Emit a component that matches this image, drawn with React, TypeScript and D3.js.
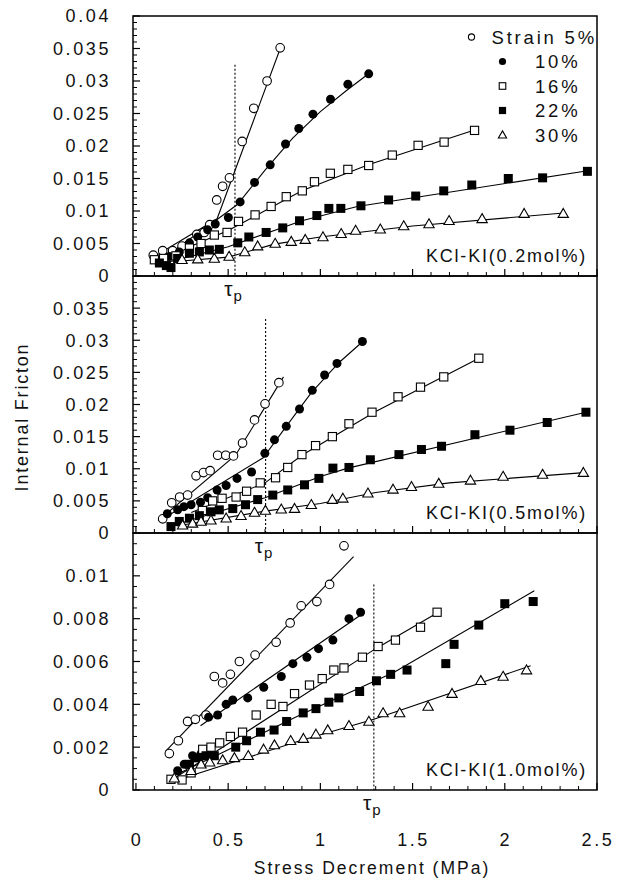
import * as d3 from 'd3';

// values
const xMajor = [0, 0.5, 1, 1.5, 2, 2.5];
const strainLabels = ['Strain 5%', '10%', '16%', '22%', '30%'];
const panelLabels = ['KCl-KI(0.2mol%)', 'KCl-KI(0.5mol%)', 'KCl-KI(1.0mol%)'];
const tauP = [0.537, 0.703, 1.29];
const tauTop = [0.0325, 0.0333, 0.0096];
const yMax = [0.04, 0.04, 0.012];
const yMajorStep = [0.005, 0.005, 0.002];
const yMinorStep = [0.001, 0.001, 0.0005];
const yLabelMax = [0.04, 0.035, 0.01];

// panel 1: KCl-KI 0.2 mol%
const p1s5 = [[0.094,0.0032],[0.145,0.0039],[0.199,0.0039],[0.25,0.0046],[0.33,0.0064],[0.37,0.0067],[0.40,0.0079],[0.438,0.0117],[0.47,0.0138],[0.507,0.0151],[0.576,0.0207],[0.639,0.0258],[0.711,0.0300],[0.782,0.0351]];
const p1s10 = [[0.127,0.0022],[0.181,0.0030],[0.235,0.0037],[0.29,0.0051],[0.335,0.0060],[0.389,0.0071],[0.43,0.0080],[0.501,0.0090],[0.565,0.0114],[0.643,0.0144],[0.728,0.0171],[0.811,0.0203],[0.883,0.0227],[0.960,0.0249],[1.055,0.0272],[1.149,0.0295],[1.262,0.0311]];
const p1s16 = [[0.10,0.0025],[0.15,0.0027],[0.217,0.0031],[0.29,0.0043],[0.353,0.0050],[0.425,0.0063],[0.494,0.0067],[0.556,0.0084],[0.646,0.0094],[0.733,0.0107],[0.815,0.0122],[0.902,0.0131],[0.968,0.0145],[1.054,0.0158],[1.149,0.0164],[1.262,0.0170],[1.390,0.0186],[1.530,0.0201],[1.671,0.0206],[1.836,0.0224]];
const p1s22 = [[0.127,0.0020],[0.165,0.0016],[0.19,0.0013],[0.226,0.0027],[0.29,0.0035],[0.344,0.0037],[0.398,0.0040],[0.452,0.0041],[0.552,0.0051],[0.612,0.0060],[0.706,0.0067],[0.796,0.0074],[0.887,0.0085],[0.981,0.0093],[1.046,0.0104],[1.111,0.0104],[1.220,0.0108],[1.370,0.0117],[1.517,0.0123],[1.669,0.0131],[1.821,0.0140],[2.019,0.0150],[2.205,0.0151],[2.448,0.0161]];
const p1s30 = [[0.25,0.0025],[0.335,0.0026],[0.425,0.0027],[0.505,0.0030],[0.59,0.0037],[0.66,0.0046],[0.755,0.0050],[0.842,0.0053],[0.918,0.0056],[1.014,0.0060],[1.113,0.0065],[1.191,0.0070],[1.325,0.0072],[1.452,0.0077],[1.589,0.0080],[1.698,0.0085],[1.877,0.0088],[2.105,0.0096],[2.317,0.0096]];
const p1f5 = [[0.10,0.0030],[0.44,0.0088],[0.785,0.0352]];
const p1f10 = [[0.12,0.0022],[0.44,0.0087],[0.55,0.0110],[0.70,0.0163],[0.85,0.0212],[1.0,0.0253],[1.14,0.0285],[1.265,0.0312]];
const p1f16 = [[0.10,0.0022],[0.50,0.0070],[0.90,0.0131],[1.26,0.0171],[1.84,0.0225]];
const p1f22 = [[0.13,0.0018],[0.50,0.0045],[0.90,0.0085],[1.20,0.0107],[2.45,0.0162]];
const p1f30 = [[0.20,0.0022],[0.50,0.0029],[0.75,0.0049],[1.0,0.0060],[1.5,0.0077],[2.32,0.0097]];

// panel 2: KCl-KI 0.5 mol%
const p2s5 = [[0.145,0.0022],[0.194,0.0047],[0.237,0.0056],[0.28,0.0059],[0.326,0.0089],[0.366,0.0094],[0.402,0.0097],[0.443,0.0121],[0.487,0.0121],[0.529,0.0120],[0.578,0.0140],[0.643,0.0176],[0.70,0.0201],[0.775,0.0234]];
const p2s10 = [[0.17,0.0030],[0.226,0.0036],[0.26,0.0041],[0.299,0.0044],[0.35,0.0048],[0.389,0.0055],[0.44,0.0067],[0.489,0.0074],[0.548,0.0085],[0.627,0.0095],[0.699,0.0124],[0.751,0.0145],[0.815,0.0166],[0.887,0.0193],[0.956,0.0222],[1.023,0.0246],[1.09,0.0264],[1.228,0.0298]];
const p2s16 = [[0.36,0.0035],[0.416,0.0050],[0.467,0.0054],[0.543,0.0056],[0.60,0.0065],[0.674,0.0078],[0.757,0.0086],[0.823,0.0102],[0.90,0.0122],[0.974,0.0136],[1.065,0.0150],[1.155,0.0170],[1.28,0.0188],[1.421,0.0212],[1.543,0.0227],[1.669,0.0243],[1.859,0.0272]];
const p2s22 = [[0.19,0.0010],[0.235,0.0018],[0.29,0.0023],[0.344,0.0027],[0.407,0.0033],[0.452,0.0036],[0.525,0.0038],[0.594,0.0044],[0.66,0.0052],[0.742,0.0059],[0.823,0.0067],[0.914,0.0075],[0.992,0.0085],[1.068,0.0101],[1.155,0.0102],[1.271,0.0114],[1.426,0.0122],[1.548,0.0130],[1.657,0.0135],[1.838,0.0153],[2.028,0.0160],[2.23,0.0172],[2.44,0.0188]];
const p2s30 = [[0.253,0.0012],[0.307,0.0015],[0.353,0.0018],[0.407,0.0020],[0.489,0.0023],[0.57,0.0027],[0.643,0.0032],[0.702,0.0035],[0.788,0.0037],[0.86,0.0038],[0.951,0.0044],[1.065,0.0052],[1.122,0.0054],[1.258,0.0062],[1.394,0.0068],[1.494,0.0072],[1.642,0.0077],[1.814,0.0082],[1.991,0.0088],[2.205,0.0091],[2.426,0.0094]];
const p2f5 = [[0.12,0.0019],[0.54,0.0121],[0.80,0.0243]];
const p2f10 = [[0.14,0.0021],[0.69,0.0117],[0.80,0.0160],[0.95,0.0218],[1.10,0.0265],[1.23,0.0298]];
const p2f16 = [[0.30,0.0032],[0.70,0.0078],[0.90,0.0121],[1.30,0.0189],[1.86,0.0272]];
const p2f22 = [[0.19,0.0011],[0.70,0.0055],[1.0,0.0088],[1.15,0.0101],[2.44,0.0188]];
const p2f30 = [[0.22,0.0011],[0.70,0.0034],[1.0,0.0046],[1.30,0.0063],[1.70,0.0078],[2.43,0.0094]];

// panel 3: KCl-KI 1.0 mol%
const p3s5 = [[0.181,0.0017],[0.23,0.0023],[0.28,0.0032],[0.322,0.0033],[0.38,0.0035],[0.425,0.0053],[0.47,0.0050],[0.512,0.0054],[0.561,0.0060],[0.646,0.0063],[0.76,0.0069],[0.836,0.0078],[0.896,0.0086],[0.981,0.0088],[1.05,0.0096],[1.128,0.0114]];
const p3s10 = [[0.226,0.0009],[0.262,0.0012],[0.307,0.0016],[0.353,0.0017],[0.389,0.0016],[0.394,0.0034],[0.443,0.0035],[0.489,0.0040],[0.525,0.0042],[0.606,0.0043],[0.693,0.0048],[0.788,0.0053],[0.851,0.0059],[0.927,0.0062],[0.99,0.0066],[1.068,0.0070],[1.155,0.0080],[1.218,0.0083]];
const p3s16 = [[0.19,0.0005],[0.25,0.00047],[0.299,0.0008],[0.362,0.0019],[0.407,0.0020],[0.454,0.0022],[0.512,0.0025],[0.578,0.0027],[0.652,0.0035],[0.733,0.0040],[0.797,0.0039],[0.86,0.0045],[0.941,0.0049],[1.01,0.0052],[1.073,0.0056],[1.128,0.0057],[1.228,0.0062],[1.313,0.0067],[1.407,0.0070],[1.543,0.0076],[1.633,0.0083]];
const p3s22 = [[0.29,0.0012],[0.335,0.0015],[0.38,0.0016],[0.425,0.0016],[0.541,0.0020],[0.60,0.0023],[0.675,0.0027],[0.749,0.0028],[0.817,0.0032],[0.907,0.0036],[0.976,0.0038],[1.046,0.0041],[1.10,0.0043],[1.213,0.0046],[1.304,0.0051],[1.381,0.0054],[1.47,0.0056],[1.68,0.0059],[1.725,0.0068],[1.859,0.0077],[2.0,0.0087],[2.154,0.0088]];
const p3s30 = [[0.208,0.00055],[0.299,0.0009],[0.353,0.0012],[0.40,0.0013],[0.47,0.0014],[0.534,0.0015],[0.609,0.0016],[0.692,0.0019],[0.751,0.0021],[0.839,0.0023],[0.908,0.0024],[0.976,0.0026],[1.04,0.0028],[1.155,0.0030],[1.263,0.0032],[1.34,0.0036],[1.43,0.0036],[1.584,0.0039],[1.714,0.0045],[1.87,0.0051],[1.991,0.0053],[2.118,0.0056]];
const p3f5 = [[0.16,0.0018],[1.18,0.0109]];
const p3f10 = [[0.35,0.0030],[1.24,0.0083]];
const p3f16 = [[0.20,0.0005],[1.30,0.0066],[1.64,0.0083]];
const p3f22 = [[0.24,0.0008],[0.89,0.0035],[1.40,0.0055],[2.16,0.0093]];
const p3f30 = [[0.20,0.0004],[0.89,0.0023],[1.29,0.0033],[2.14,0.0058]];

const points = [
  [p1s5, p1s10, p1s16, p1s22, p1s30],
  [p2s5, p2s10, p2s16, p2s22, p2s30],
  [p3s5, p3s10, p3s16, p3s22, p3s30],
];
const fits = [
  [p1f5, p1f10, p1f16, p1f22, p1f30],
  [p2f5, p2f10, p2f16, p2f22, p2f30],
  [p3f5, p3f10, p3f16, p3f22, p3f30],
];

const FONT = "'Liberation Sans', Arial, Helvetica, sans-serif";
const left = 133, right = 597;
const bands = [[16, 276], [276, 533], [533, 790]];

const triangle = d3.symbol().type(d3.symbolTriangle);

function Marker({ kind, cx, cy, s = 1 }: { kind: number; cx: number; cy: number; s?: number }) {
  const sw = 1.1;
  if (kind === 0) return <circle cx={cx} cy={cy} r={4.3 * s} fill="#fff" stroke="#000" strokeWidth={sw} />;
  if (kind === 1) return <circle cx={cx} cy={cy} r={4.5 * s} fill="#000" />;
  if (kind === 2) {
    const h = 4.1 * s;
    return <rect x={cx - h} y={cy - h} width={2 * h} height={2 * h} fill="#fff" stroke="#000" strokeWidth={sw} />;
  }
  if (kind === 3) {
    const h = 4.5 * s;
    return <rect x={cx - h} y={cy - h} width={2 * h} height={2 * h} fill="#000" />;
  }
  return (
    <path
      d={triangle.size(46 * s * s)() as string}
      transform={`translate(${cx},${cy + 0.8 * s})`}
      fill="#fff"
      stroke="#000"
      strokeWidth={sw}
    />
  );
}

const fmt = (v: number) => (v === 0 ? '0' : String(+v.toFixed(4)));

export default function App() {
  const x = d3.scaleLinear().domain([-0.016, 2.5]).range([left, right]);
  const xMinor = d3.range(0, 2.5001, 0.1).filter((v) => Math.abs(v * 2 - Math.round(v * 2)) > 1e-6);

  return (
    <svg
      width={618}
      height={885}
      style={{ position: 'absolute', left: 0, top: 0, background: '#fff' }}
      fontFamily={FONT}
    >
      <rect width={618} height={885} fill="#fff" />
      {bands.map(([top, bottom], pi) => {
        const y = d3.scaleLinear().domain([0, yMax[pi]]).range([bottom, top]);
        const line = d3
          .line<number[]>()
          .x((d) => x(d[0]))
          .y((d) => y(d[1]));
        const majors = d3.range(0, yMax[pi] + 1e-9, yMajorStep[pi]);
        const minors = d3
          .range(0, yMax[pi] + 1e-9, yMinorStep[pi])
          .filter((v) => majors.every((m) => Math.abs(m - v) > 1e-9));
        const labels = majors.filter((v) => v <= yLabelMax[pi] + 1e-9);
        return (
          <g key={pi}>
            {/* fitted lines */}
            {fits[pi].map((f, si) => (
              <path key={si} d={line(f) as string} fill="none" stroke="#000" strokeWidth={1.1} />
            ))}
            {/* tau_p marker */}
            <line
              x1={x(tauP[pi])}
              x2={x(tauP[pi])}
              y1={y(tauTop[pi])}
              y2={bottom}
              stroke="#000"
              strokeWidth={1.1}
              strokeDasharray="2,2"
            />
            {points[pi].map((ser, si) => (
              <g key={si}>
                {ser.map((d, k) => (
                  <Marker key={k} kind={si} cx={x(d[0])} cy={y(d[1])} />
                ))}
              </g>
            ))}
            {/* left ticks */}
            {majors.map((v) => (
              <line key={'M' + v} x1={left} x2={left + 7} y1={y(v)} y2={y(v)} stroke="#000" strokeWidth={1.2} />
            ))}
            {minors.map((v) => (
              <line key={'m' + v} x1={left} x2={left + 4} y1={y(v)} y2={y(v)} stroke="#000" strokeWidth={1} />
            ))}
            {/* bottom ticks */}
            {xMajor.map((v) => (
              <line key={'X' + v} x1={x(v)} x2={x(v)} y1={bottom} y2={bottom - 7} stroke="#000" strokeWidth={1.2} />
            ))}
            {xMinor.map((v) => (
              <line key={'x' + v} x1={x(v)} x2={x(v)} y1={bottom} y2={bottom - 4} stroke="#000" strokeWidth={1} />
            ))}
            {labels.map((v) => (
              <text
                key={'L' + v}
                x={111}
                y={y(v)}
                dy="0.36em"
                textAnchor="end"
                fontSize={18}
                letterSpacing={2.6}
                fill="#111"
              >
                {fmt(v)}
              </text>
            ))}
            <text
              x={587}
              y={bottom - 14}
              textAnchor="end"
              fontSize={18}
              letterSpacing={1.8}
              fill="#111"
            >
              {panelLabels[pi]}
            </text>
            <text x={x(tauP[pi]) - 2} y={bottom + 20} textAnchor="middle" fontSize={21} fill="#111">
              τ
              <tspan fontSize={15} dx={1} dy={5}>
                p
              </tspan>
            </text>
            <rect
              x={left}
              y={top}
              width={right - left}
              height={bottom - top}
              fill="none"
              stroke="#000"
              strokeWidth={1.5}
            />
          </g>
        );
      })}

      {/* legend */}
      {strainLabels.map((lab, i) => {
        const cy = 37 + i * 24.5;
        return (
          <g key={lab}>
            <Marker kind={i} cx={i === 0 ? 471.5 : 502.5} cy={cy} s={i === 0 ? 0.72 : 0.8} />
            <text
              x={i === 0 ? 491.5 : 535}
              y={cy + 6.5}
              fontSize={18.5}
              letterSpacing={2.8}
              fill="#111"
            >
              {lab}
            </text>
          </g>
        );
      })}

      {/* x tick labels */}
      {xMajor.map((v) => (
        <text key={v} x={x(v) + 1} y={846} textAnchor="middle" fontSize={18} letterSpacing={2.6} fill="#111">
          {fmt(v)}
        </text>
      ))}
      <text x={372} y={874} textAnchor="middle" fontSize={17.5} letterSpacing={2} fill="#111">
        Stress Decrement  (MPa)
      </text>
      <text
        transform="translate(28,417) rotate(-90)"
        textAnchor="middle"
        fontSize={18}
        letterSpacing={1.8}
        fill="#111"
      >
        Internal Fricton
      </text>
    </svg>
  );
}
